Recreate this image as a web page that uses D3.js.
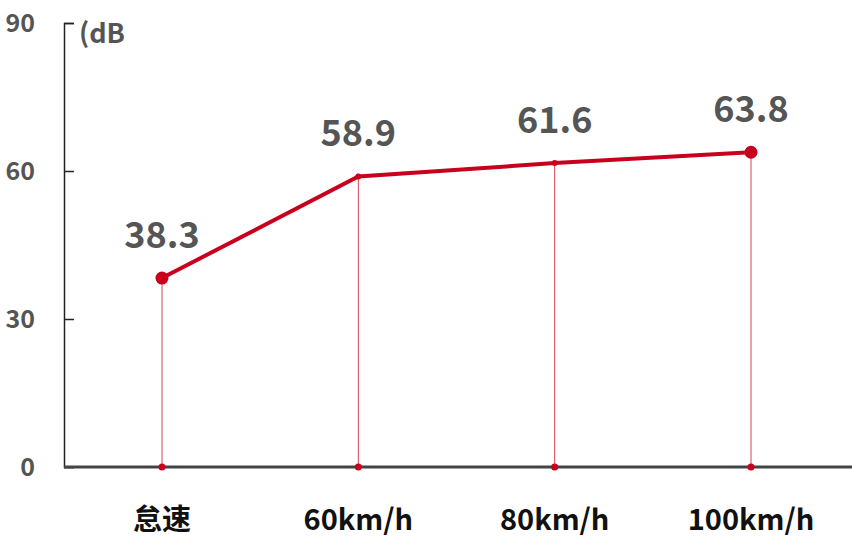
<!DOCTYPE html>
<html>
<head>
<meta charset="utf-8">
<script src="https://cdn.jsdelivr.net/npm/d3@7"></script>
<style>
  body { margin: 0; background: #fff; }
  text { font-family: "Noto Sans CJK SC", "Noto Sans", sans-serif; font-weight: bold; }
</style>
</head>
<body>
<script>
// chart values
const categories = ["怠速", "60km/h", "80km/h", "100km/h"];
const values = [38.3, 58.9, 61.6, 63.8];
const yTicks = [0, 30, 60, 90];
const unitLabel = "(dB";

const width = 852, height = 548;
const red = "#c8001e";
const gray = "#555555";

const svg = d3.select("body").append("svg")
  .attr("width", width)
  .attr("height", height);

const y = d3.scaleLinear().domain([0, 90]).range([467, 23]);
const x = d3.scalePoint().domain(categories).range([162, 751]);

// y axis line, ticks point inward
const yAxis = d3.axisRight(y).tickValues(yTicks).tickSize(10).tickFormat("");
svg.append("g")
   .attr("transform", "translate(64,0)")
   .call(yAxis)
   .call(g => g.select(".domain").attr("stroke", "#222").attr("stroke-width", 1.5))
   .call(g => g.selectAll(".tick line").attr("stroke", "#222").attr("stroke-width", 1.5));

// y tick labels
svg.append("g").selectAll("text")
   .data(yTicks)
   .join("text")
   .attr("x", 35)
   .attr("y", d => y(d))
   .attr("dy", "0.36em")
   .attr("text-anchor", "end")
   .attr("fill", gray)
   .attr("font-size", 25)
   .text(d => d);

svg.append("text")
   .attr("x", 79)
   .attr("y", 43)
   .attr("fill", gray)
   .attr("font-size", 27)
   .text(unitLabel);

// drop lines
svg.append("g").selectAll("line")
   .data(values)
   .join("line")
   .attr("x1", (d, i) => x(categories[i]))
   .attr("x2", (d, i) => x(categories[i]))
   .attr("y1", d => y(d))
   .attr("y2", y(0))
   .attr("stroke", red)
   .attr("stroke-opacity", 0.75)
   .attr("stroke-width", 1);

// x axis baseline
svg.append("line")
   .attr("x1", 64).attr("x2", width)
   .attr("y1", y(0)).attr("y2", y(0))
   .attr("stroke", "#444").attr("stroke-width", 3);

// baseline dots
svg.append("g").selectAll("circle")
   .data(categories)
   .join("circle")
   .attr("cx", d => x(d))
   .attr("cy", y(0))
   .attr("r", 3.5)
   .attr("fill", red);

// main line
const line = d3.line()
  .x((d, i) => x(categories[i]))
  .y(d => y(d));

svg.append("path")
   .datum(values)
   .attr("d", line)
   .attr("fill", "none")
   .attr("stroke", red)
   .attr("stroke-width", 4);

svg.append("g").selectAll("circle")
   .data(values)
   .join("circle")
   .attr("cx", (d, i) => x(categories[i]))
   .attr("cy", d => y(d))
   .attr("r", (d, i) => (i == 0 || i == values.length - 1) ? 6.5 : 3)
   .attr("fill", red);

// value labels
svg.append("g").selectAll("text")
   .data(values)
   .join("text")
   .attr("x", (d, i) => x(categories[i]))
   .attr("y", d => y(d) - 30)
   .attr("text-anchor", "middle")
   .attr("fill", gray)
   .attr("font-size", 36)
   .text(d => d.toFixed(1));

// category labels
svg.append("g").selectAll("text")
   .data(categories)
   .join("text")
   .attr("x", d => x(d))
   .attr("y", 530)
   .attr("text-anchor", "middle")
   .attr("fill", "#111")
   .attr("font-size", 29)
   .text(d => d);
</script>
</body>
</html>
